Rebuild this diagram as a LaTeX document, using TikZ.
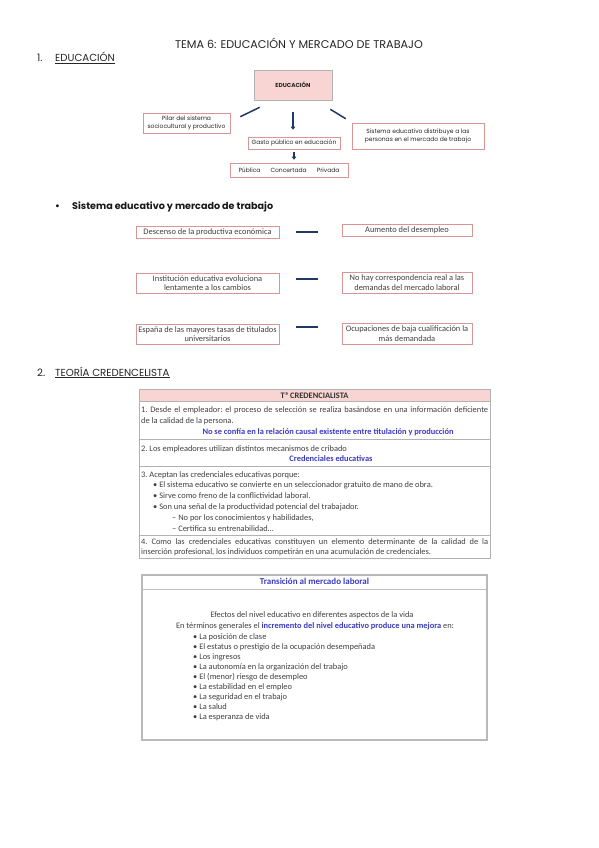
\documentclass[tikz,border=0pt]{standalone}
\usepackage{fontspec}
\setmainfont{Carlito}
\newfontfamily\popfont{Poppins}
\usetikzlibrary{arrows.meta}

\definecolor{navyline}{HTML}{1F3864}
\definecolor{rosebox}{HTML}{D99694}
\definecolor{rosefill}{HTML}{F8D5D3}
\definecolor{bluetext}{HTML}{3B3BC0}
\definecolor{greytext}{HTML}{404040}

\newcommand{\tabfont}{\fontsize{8.4}{10}\selectfont\frenchspacing}
\newcommand{\mapfont}{\popfont\fontsize{6}{8.5}\selectfont}
\newcommand{\rowfont}{\fontsize{8.4}{9.3}\selectfont}

\tikzset{
  mapbox/.style={draw=rosebox, line width=0.6pt, fill=white, inner sep=1pt, align=center, font=\mapfont, text=black!85},
  rowbox/.style={draw=rosebox, line width=0.6pt, inner sep=0pt, align=center, font=\rowfont, text=greytext},
  link/.style={draw=navyline, line width=1.5pt},
  linkarrow/.style={link, -{Triangle[length=3pt,width=4.5pt]}},
  tabtext/.style={anchor=base west, inner sep=0pt, font=\tabfont, text=greytext},
  tabmid/.style={anchor=base, inner sep=0pt, font=\tabfont\bfseries, text=bluetext},
  headtext/.style={anchor=base west, inner sep=0pt, font=\popfont\fontsize{10.2}{12}\selectfont, text=black!85},
}

\begin{document}
\begin{tikzpicture}[x=1pt,y=-1pt]
\useasboundingbox[fill=white] (0,0) rectangle (599,848);

\node[anchor=base, inner sep=0pt, font=\popfont\fontsize{11.2}{13}\selectfont, text=black!85] (title) at (299,48.5) {TEMA 6: EDUCACIÓN Y MERCADO DE TRABAJO};
\node[headtext] (sec1) at (37,62) {\makebox[18pt][l]{1.}\underline{EDUCACIÓN}};

\node[mapbox, fill=rosefill, draw=gray!60, minimum width=78pt, minimum height=30pt, font=\popfont\bfseries\fontsize{5.8}{7}\selectfont] (edu) at (293,85) {EDUCACIÓN};
\node[mapbox, minimum width=87pt, minimum height=20pt] (pilar) at (186.5,123) {Pilar del sistema\\sociocultural y productivo};
\node[mapbox, minimum width=92pt, minimum height=12pt] (gasto) at (294,143) {Gasto público en educación};
\node[mapbox, minimum width=132pt, minimum height=26pt] (distr) at (418,136) {Sistema educativo distribuye a las\\personas en el mercado de trabajo};
\node[mapbox, minimum width=118pt, minimum height=14pt] (tipos) at (289,170) {Pública\hspace{10pt}Concertada\hspace{10pt}Privada};

\draw[link] ([xshift=6pt,yshift=-7pt]edu.south west) -- ([xshift=10pt,yshift=-4pt]pilar.north east);
\draw[link] ([xshift=-2pt,yshift=-9pt]edu.south east) -- ([xshift=-6pt,yshift=4pt]distr.north west);
\draw[linkarrow, shorten <=12pt, shorten >=7pt] (edu.south) -- (edu.south |- gasto.north);
\draw[linkarrow, shorten <=3pt, shorten >=3pt] (gasto.south) -- (gasto.south |- tipos.north);

\node[anchor=base west, inner sep=0pt, font=\popfont\bfseries\fontsize{9.6}{11}\selectfont, text=black!90] (sec1b) at (55,209.5) {\makebox[17pt][l]{•}Sistema educativo y mercado de trabajo};

\node[rowbox, minimum width=143pt, minimum height=12pt] (desc) at (207.5,232) {Descenso de la productiva económica};
\node[rowbox, minimum width=130pt, minimum height=12pt] (aum) at (407,230) {Aumento del desempleo};
\node[rowbox, minimum width=143pt, minimum height=20pt] (inst) at (207.5,283) {Institución educativa evoluciona\\lentamente a los cambios};
\node[rowbox, minimum width=130pt, minimum height=21pt] (corr) at (407,282.5) {No hay correspondencia real a las\\demandas del mercado laboral};
\node[rowbox, minimum width=143pt, minimum height=20pt] (esp) at (207.5,334) {España de las mayores tasas de titulados\\universitarios};
\node[rowbox, minimum width=130pt, minimum height=21pt] (ocup) at (407,333.5) {Ocupaciones de baja cualificación la\\más demandada};

\draw[link, shorten <=17pt, shorten >=24pt] (desc.east) -- (desc.east -| aum.west);
\draw[link, shorten <=17pt, shorten >=24pt] ([yshift=4pt]inst.east) -- ([yshift=4pt]inst.east -| corr.west);
\draw[link, shorten <=17pt, shorten >=24pt] ([yshift=7pt]esp.east) -- ([yshift=7pt]esp.east -| ocup.west);

\node[headtext] (sec2) at (37,376) {\makebox[18pt][l]{2.}\underline{TEORÍA CREDENCELISTA}};

\fill[rosefill] (139,389) rectangle (490,401);
\draw[rosebox!80, line width=0.6pt] (139,389) rectangle (490,401);
\draw[gray!60, line width=0.9pt] (139,389) rectangle (490,558.5);
\foreach \y in {401,439,466,535}
  \draw[gray!60, line width=0.9pt] (139,\y) -- (490,\y);

\node[anchor=base, inner sep=0pt, font=\tabfont\bfseries, text=greytext!80!black] (cr0) at (314.5,398) {Tª CREDENCIALISTA};
\node[tabtext] (cr1a) at (141,412) {\makebox[347pt][s]{1. Desde el empleador: el proceso de selección se realiza basándose en una información deficiente}};
\node[tabtext] (cr1b) at (141,423) {de la calidad de la persona.};
\node[tabmid] (cr1c) at (328,434) {No se confía en la relación causal existente entre titulación y producción};
\node[tabtext] (cr2a) at (141,451) {2. Los empleadores utilizan distintos mecanismos de cribado};
\node[tabmid] (cr2b) at (331,461.5) {Credenciales educativas};
\node[tabtext] (cr3a) at (141,477) {3. Aceptan las credenciales educativas porque:};
\node[tabtext] (cr3b) at (153,487.8) {• El sistema educativo se convierte en un seleccionador gratuito de mano de obra.};
\node[tabtext] (cr3c) at (153,498.6) {• Sirve como freno de la conflictividad laboral.};
\node[tabtext] (cr3d) at (153,509.4) {• Son una señal de la productividad potencial del trabajador.};
\node[tabtext] (cr3e) at (172,520.2) {– No por los conocimientos y habilidades,};
\node[tabtext] (cr3f) at (172,531) {– Certifica su entrenabilidad…};
\node[tabtext] (cr4a) at (141,544) {\makebox[347pt][s]{4. Como las credenciales educativas constituyen un elemento determinante de la calidad de la}};
\node[tabtext] (cr4b) at (141,554.8) {inserción profesional, los individuos competirán en una acumulación de credenciales.};

\draw[gray!55, line width=1.2pt] (142,575) rectangle (487,740);
\draw[gray!50, line width=1pt] (142,589) -- (487,589);
\node[anchor=base, inner sep=0pt, font=\fontsize{9}{10}\selectfont\bfseries, text=bluetext] (tr0) at (314.5,584.5) {Transición al mercado laboral};
\node[anchor=base, inner sep=0pt, font=\tabfont, text=greytext] (tr1) at (312,617.5) {Efectos del nivel educativo en diferentes aspectos de la vida};
\node[anchor=base, inner sep=0pt, font=\tabfont, text=greytext] (tr2) at (315,628.5) {En términos generales el \textcolor{bluetext}{\bfseries incremento del nivel educativo produce una mejora} en:};
\foreach \entry [count=\i] in {La posición de clase, El estatus o prestigio de la ocupación desempeñada, Los ingresos, La autonomía en la organización del trabajo, El (menor) riesgo de desempleo, La estabilidad en el empleo, La seguridad en el trabajo, La salud, La esperanza de vida}
  \node[tabtext] (item\i) at (193,{629+10*\i}) {• \entry};
\end{tikzpicture}
\end{document}
